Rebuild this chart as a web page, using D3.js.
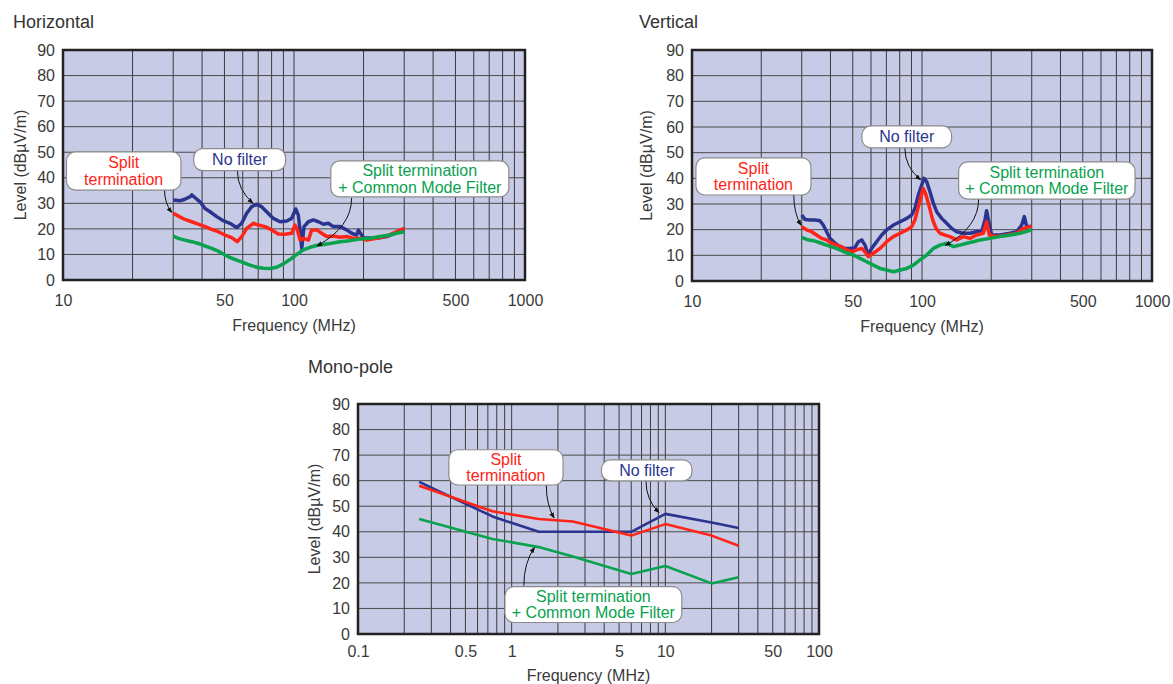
<!DOCTYPE html>
<html>
<head>
<meta charset="utf-8">
<script src="https://cdn.jsdelivr.net/npm/d3@7"></script>
<style>
body { margin: 0; background: #fff; }
svg text { font-family: "Liberation Sans", Arial, sans-serif; fill: #3a3a3a; }
</style>
</head>
<body>
<div id="chart"></div>
<script>
// ---- data: [frequency MHz, level dBuV/m] ----
var hNoFilter = [[30,31.3],[32.1,31.0],[33.7,31.6],[35.5,32.6],[36.1,33.3],[37.3,32.2],[39.2,30.6],[41.2,28.0],
	[43.3,26.7],[46.3,24.8],[49.4,23.2],[52.8,22.2],[56.5,20.5],[59.4,22.2],[62.4,26.1],[65.6,28.7],[68.9,29.6],
	[72.4,28.7],[76.1,26.7],[81.4,24.1],[87,22.8],[93,23.1],[97.7,24.1],[101.7,27.8],[104.4,25.4],[106.2,19.6],
	[108,12.4],[110.5,20.9],[115.4,22.8],[121.3,23.5],[127.5,22.8],[134,21.8],[140.8,22.2],[148,20.9],[158.2,20.9],
	[169,19.6],[177.7,18.3],[186.7,17.6],[190,19.5],[200,16.5],[228,16.3],[252,17.0],[278,18.5],[300,19.8]];
var hSplit = [[30,26.1],[31.6,25.0],[33.7,23.7],[36.1,22.8],[38.5,21.9],[41.2,20.9],[44,19.8],[47,18.9],[50.3,17.6],
	[53.7,16.6],[56.8,15.0],[59.4,17.0],[62.4,20.2],[66.7,22.2],[70.1,21.5],[74.9,20.9],[80.1,19.6],[85.5,18.0],
	[91.4,17.9],[97.7,18.3],[101,21.5],[103.4,19.6],[106.2,15.6],[109.7,16.3],[115.4,15.6],[119.3,19.6],[125.4,19.6],
	[131.8,18.3],[138.5,17.0],[148,17.2],[158.2,16.7],[169,17.0],[180.6,16.3],[193.1,16.3],[206.4,15.6],[228,16.3],
	[251.9,17.2],[278.4,18.9],[300,20.2]];
var hSplitCmf = [[30,17.2],[31.6,16.3],[33.7,15.6],[36.1,15.0],[38.5,14.3],[41.2,13.3],[44,12.4],[47,11.3],[50.3,9.8],
	[52.8,8.8],[56.5,7.8],[60.4,6.8],[64.5,5.8],[68.9,5.0],[73.7,4.6],[78.8,4.5],[84.1,5.0],[89.9,6.3],[96.1,8.0],
	[102.7,10.0],[109.7,11.8],[117.3,12.8],[125.4,13.5],[134,13.9],[143.2,14.3],[158.2,15.0],[174.8,15.4],[193.1,16.0],
	[213.3,16.3],[235.7,17.0],[260.4,17.6],[278.4,18.3],[300,18.9]];

var vNoFilter = [[30,25.7],[31,24.0],[32.6,23.8],[34.3,23.8],[36,23.5],[37.2,21.8],[38.5,19.2],[39.8,16.6],[41.9,14.7],
	[44,13.4],[46.3,12.7],[48.6,12.7],[51.1,13.0],[52.9,15.3],[54.7,16.0],[56.5,14.0],[58.4,10.1],[60.4,12.7],[63.5,15.3],
	[66.8,17.9],[70.2,19.9],[75.1,21.8],[80.3,23.1],[85.8,24.4],[90.2,25.7],[93.2,28.3],[96.4,33.5],[99.7,37.4],[102,40.0],
	[104.8,38.7],[108.3,34.8],[112,30.3],[115.8,27.0],[121.8,24.4],[128,22.5],[134.6,20.5],[141.5,19.2],[151.3,18.6],
	[161.7,18.6],[172.9,19.2],[181.7,19.2],[187.9,23.8],[191,27.4],[194.3,23.8],[200.9,17.9],[218.4,17.9],[241.3,18.6],
	[257.9,19.2],[271.3,21.8],[278.6,25.1],[285.2,21.2],[300,21.2]];
var vSplit = [[30,21.2],[31.5,19.9],[33.1,19.2],[34.8,17.9],[36.6,16.6],[38.5,16.0],[40.5,14.7],[42.6,14.0],[44.7,13.4],
	[47,12.1],[49.5,11.4],[52,12.1],[54.7,12.7],[56.5,11.4],[58.4,9.5],[61.4,10.8],[65.7,12.7],[70.2,15.3],[75.1,17.3],
	[80.3,18.6],[85.8,19.9],[90.2,21.2],[93.2,23.8],[96.4,28.9],[99.7,33.9],[101.3,36.1],[104.1,33.5],[107.6,28.9],
	[111.3,23.8],[115.1,20.5],[119.8,18.6],[125.9,17.9],[132.3,17.3],[141.5,16.0],[151.3,17.3],[161.7,16.6],[172.9,17.9],
	[184.8,18.6],[191,23.1],[196.2,17.9],[211.2,17.3],[233.4,17.9],[257.9,18.6],[275.8,20.5],[300,21.4]];
var vSplitCmf = [[30,17.0],[31.5,16.2],[33.7,15.7],[36,14.9],[38.5,14.0],[41.2,13.1],[44,12.1],[47,11.0],[50.3,10.1],
	[53.8,8.8],[57.5,7.5],[61.4,6.2],[65.7,4.9],[70.2,4.3],[75.1,3.6],[80.3,4.3],[85.8,4.9],[91.7,6.2],[98,8.2],
	[104.8,10.1],[112,12.7],[119.8,14.0],[128,14.7],[136.9,13.4],[146.3,14.0],[156.4,14.7],[167.2,15.3],[178.7,16.0],
	[197.5,16.6],[218.4,17.3],[241.3,17.9],[266.8,18.6],[300,19.9]];

var monoFreq = [0.25, 0.75, 1.5, 2.5, 6, 10, 20, 30];
var monoNoFilter = [59.5, 46, 40, 40, 40, 47, 43.6, 41.5];
var monoSplit = [58, 48, 45, 44, 38.5, 43, 38.5, 34.5];
var monoSplitCmf = [45, 37.2, 34, 30.3, 23.5, 26.6, 19.8, 22.2];

var levelTicks = [0, 10, 20, 30, 40, 50, 60, 70, 80, 90];
var hvFreqTicks = [10, 50, 100, 500, 1000];
var monoFreqTicks = [0.1, 0.5, 1, 5, 10, 50, 100];

var blue = "#2b3590", red = "#ff2418", green = "#09a24e";

var svg = d3.select("#chart")
	.append("svg")
	.attr("width", 1173)
	.attr("height", 684);

// small arrow head for the callout pointers
svg.append("defs").append("marker")
	.attr("id", "arrow")
	.attr("viewBox", "0 0 10 10")
	.attr("refX", 9)
	.attr("refY", 5)
	.attr("markerWidth", 6)
	.attr("markerHeight", 6)
	.attr("markerUnits", "userSpaceOnUse")
	.attr("orient", "auto")
	.append("path")
	.attr("d", "M0,1 L10,5 L0,9 Z")
	.attr("fill", "#111");

function drawChart(o) {
	var x = d3.scaleLog().domain(o.xDomain).range([0, o.width]);
	var y = d3.scaleLinear().domain([0, 90]).range([o.height, 0]);

	// title
	svg.append("text")
		.attr("x", o.titleX)
		.attr("y", o.titleY)
		.style("font-size", "18px")
		.style("fill", "#333")
		.text(o.title);

	var g = svg.append("g")
		.attr("transform", `translate(${o.left}, ${o.top})`);

	g.append("rect")
		.attr("width", o.width)
		.attr("height", o.height)
		.attr("fill", "#c8cbe5");

	// log grid
	g.selectAll(".vgrid")
		.data(x.ticks())
		.enter()
		.append("line")
		.attr("x1", d => x(d))
		.attr("x2", d => x(d))
		.attr("y1", 0)
		.attr("y2", o.height)
		.attr("stroke", "#3c3c3c")
		.attr("stroke-width", 1);

	g.selectAll(".hgrid")
		.data(levelTicks)
		.enter()
		.append("line")
		.attr("x1", 0)
		.attr("x2", o.width)
		.attr("y1", d => y(d))
		.attr("y2", d => y(d))
		.attr("stroke", "#4a4a4a")
		.attr("stroke-width", 1);

	var clipId = "clip-" + o.id;
	g.append("clipPath").attr("id", clipId)
		.append("rect").attr("width", o.width).attr("height", o.height);

	var line = d3.line()
		.x(d => x(d[0]))
		.y(d => y(d[1]));

	o.series.forEach(function(s) {
		g.append("path")
			.datum(s.values)
			.attr("clip-path", `url(#${clipId})`)
			.attr("d", line)
			.attr("fill", "none")
			.attr("stroke", s.color)
			.attr("stroke-width", o.lineWidth)
			.attr("stroke-linejoin", "round");
	});

	// frame
	g.append("rect")
		.attr("width", o.width)
		.attr("height", o.height)
		.attr("fill", "none")
		.attr("stroke", "#222")
		.attr("stroke-width", 2.5);

	// axes
	var leftAxis = d3.axisLeft(y).tickValues(levelTicks).tickSize(0).tickPadding(8);
	var yAxis = g.append("g").call(leftAxis);
	yAxis.select(".domain").remove();
	yAxis.selectAll("text").style("font-size", "16px").attr("fill", null);

	var bottomAxis = d3.axisBottom(x).tickValues(o.xTicks).tickSize(0).tickPadding(o.tickPad)
		.tickFormat(d => String(d));
	var xAxis = g.append("g")
		.attr("transform", `translate(0, ${o.height})`)
		.call(bottomAxis);
	xAxis.select(".domain").remove();
	xAxis.selectAll("text").style("font-size", "16px").attr("fill", null);

	g.append("text")
		.attr("x", o.width / 2)
		.attr("y", o.height + o.xTitleOffset)
		.attr("text-anchor", "middle")
		.style("font-size", "16px")
		.text("Frequency (MHz)");

	svg.append("text")
		.attr("transform", `translate(${o.yTitleX}, ${o.top + o.height / 2}) rotate(-90)`)
		.attr("text-anchor", "middle")
		.attr("dominant-baseline", "central")
		.style("font-size", "16px")
		.text("Level (dBµV/m)");

	// callouts
	o.callouts.forEach(function(c) {
		var sx = x(c.from[0]), sy = y(c.from[1]);
		var ex = x(c.to[0]), ey = y(c.to[1]);
		g.append("path")
			.attr("d", `M${sx},${sy} Q${sx},${sy + (ey - sy) * 0.6} ${ex},${ey}`)
			.attr("fill", "none")
			.attr("stroke", "#111")
			.attr("stroke-width", 1)
			.attr("marker-end", "url(#arrow)");

		var x1 = x(c.box[0]), x2 = x(c.box[1]);
		var y1 = y(c.box[2]), y2 = y(c.box[3]);
		g.append("rect")
			.attr("x", x1)
			.attr("y", y1)
			.attr("width", x2 - x1)
			.attr("height", y2 - y1)
			.attr("rx", 9)
			.attr("fill", "#fff")
			.attr("stroke", "#8c8c8c")
			.attr("stroke-width", 1.2);

		var cy = (y1 + y2) / 2;
		c.lines.forEach(function(t, i) {
			g.append("text")
				.attr("x", (x1 + x2) / 2)
				.attr("y", cy + (i - (c.lines.length - 1) / 2) * 16.5)
				.attr("text-anchor", "middle")
				.attr("dominant-baseline", "central")
				.style("font-size", "16px")
				.style("fill", c.color)
				.text(t);
		});
	});
}

drawChart({
	id: "h", title: "Horizontal", titleX: 13, titleY: 28,
	left: 63, top: 50, width: 462, height: 230,
	xDomain: [10, 1000], xTicks: hvFreqTicks, tickPad: 15, xTitleOffset: 51, yTitleX: 20,
	lineWidth: 3.5,
	series: [
		{values: hNoFilter, color: blue},
		{values: hSplit, color: red},
		{values: hSplitCmf, color: green}
	],
	callouts: [
		{lines: ["Split", "termination"], color: red, box: [10.35, 32.4, 50.1, 35.2], from: [27.5, 35.4], to: [29.6, 26.4]},
		{lines: ["No filter"], color: blue, box: [36.8, 92, 51.4, 42.8], from: [56.9, 42.8], to: [66.5, 30.1]},
		{lines: ["Split termination", "+ Common Mode Filter"], color: green, box: [144.3, 851, 46.6, 32.5], from: [177.6, 32.1], to: [125.8, 13.3]}
	]
});

drawChart({
	id: "v", title: "Vertical", titleX: 639, titleY: 28,
	left: 692, top: 50, width: 460, height: 231,
	xDomain: [10, 1000], xTicks: hvFreqTicks, tickPad: 15, xTitleOffset: 51, yTitleX: 646,
	lineWidth: 3.5,
	series: [
		{values: vNoFilter, color: blue},
		{values: vSplit, color: red},
		{values: vSplitCmf, color: green}
	],
	callouts: [
		{lines: ["Split", "termination"], color: red, box: [10.4, 32.9, 48.0, 33.5], from: [27.7, 33.5], to: [29.8, 21.7]},
		{lines: ["No filter"], color: blue, box: [54.8, 134.5, 60.4, 51.9], from: [84.2, 51.9], to: [98.6, 39.4]},
		{lines: ["Split termination", "+ Common Mode Filter"], color: green, box: [144.3, 844, 46.4, 31.9], from: [176.3, 31.9], to: [126.2, 13.8]}
	]
});

drawChart({
	id: "m", title: "Mono-pole", titleX: 308, titleY: 373,
	left: 358, top: 404, width: 461, height: 230,
	xDomain: [0.1, 100], xTicks: monoFreqTicks, tickPad: 12, xTitleOffset: 47, yTitleX: 314,
	lineWidth: 2.6,
	series: [
		{values: monoFreq.map((f, i) => [f, monoNoFilter[i]]), color: blue},
		{values: monoFreq.map((f, i) => [f, monoSplit[i]]), color: red},
		{values: monoFreq.map((f, i) => [f, monoSplitCmf[i]]), color: green}
	],
	callouts: [
		{lines: ["Split", "termination"], color: red, box: [0.39, 2.16, 72.1, 58.3], from: [1.68, 58.3], to: [1.89, 45.4]},
		{lines: ["No filter"], color: blue, box: [3.84, 14.9, 68.1, 59.9], from: [7.48, 59.9], to: [9.1, 47.5]},
		{lines: ["Split termination", "+ Common Mode Filter"], color: green, box: [0.904, 12.8, 18.5, 4.5], from: [1.2, 18.9], to: [1.41, 33.9]}
	]
});
</script>
</body>
</html>
